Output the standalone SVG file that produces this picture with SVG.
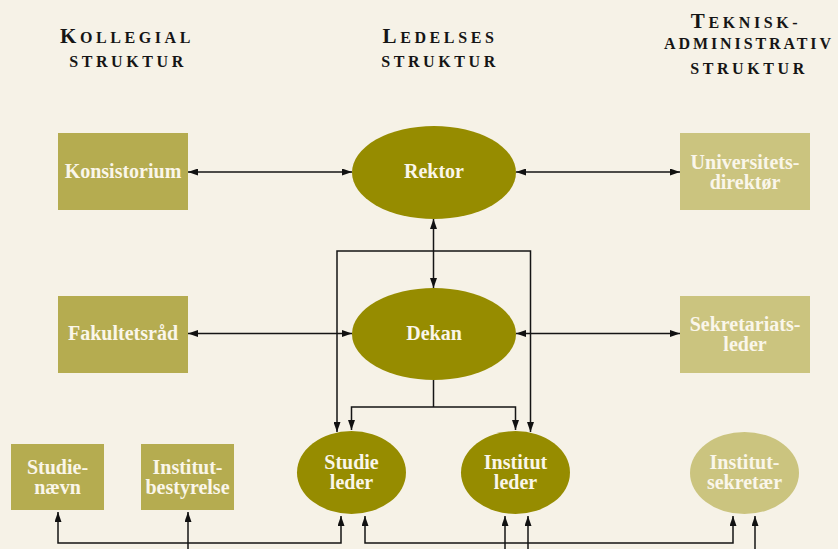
<svg xmlns="http://www.w3.org/2000/svg" width="838" height="549" viewBox="0 0 838 549">
<defs>
<marker id="ah" viewBox="0 0 10 7" refX="10" refY="3.5" markerWidth="10" markerHeight="7" markerUnits="userSpaceOnUse" orient="auto-start-reverse">
<path d="M0,0 L10,3.5 L0,7 z" fill="#111"/>
</marker>
<style>
.bg{fill:#f6f2e7}
.kol{fill:#b5ac50}
.led{fill:#968c00}
.tek{fill:#cbc47f}
.lbl{font-family:"Liberation Serif","DejaVu Serif",serif;font-weight:bold;font-size:20px;fill:#faf6ea;text-anchor:middle}
.hdr{font-family:"Liberation Serif","DejaVu Serif",serif;font-weight:bold;font-size:16px;fill:#151515;text-anchor:middle;letter-spacing:3.6px}
.big{font-size:21px}
.c{fill:none;stroke:#151515;stroke-width:1.5}
.ba{marker-start:url(#ah);marker-end:url(#ah)}
.ea{marker-end:url(#ah)}
</style>
</defs>
<rect class="bg" x="0" y="0" width="838" height="549"/>

<g id="headers">
<text class="hdr" x="127" y="42.5"><tspan class="big">K</tspan>OLLEGIAL</text>
<text class="hdr" x="128" y="66.5">STRUKTUR</text>
<text class="hdr" x="440" y="42.5"><tspan class="big">L</tspan>EDELSES</text>
<text class="hdr" x="440" y="66.5">STRUKTUR</text>
<text class="hdr" x="746" y="27.5"><tspan class="big">T</tspan>EKNISK-</text>
<text class="hdr" x="749" y="49" style="letter-spacing:2.9px">ADMINISTRATIV</text>
<text class="hdr" x="749" y="74">STRUKTUR</text>
</g>

<g id="connectors">
<line class="c ba" x1="188" y1="172" x2="352" y2="172"/>
<line class="c ba" x1="516" y1="172" x2="680" y2="172"/>
<line class="c ba" x1="188" y1="333.5" x2="352" y2="333.5"/>
<line class="c ba" x1="516" y1="333.5" x2="680" y2="333.5"/>
<line class="c ba" x1="433.5" y1="219" x2="433.5" y2="288"/>
<path class="c ba" d="M337,432 V251 H530.5 V432"/>
<line class="c" x1="433.5" y1="380" x2="433.5" y2="407"/>
<path class="c ba" d="M351.5,430 V407 H515.5 V430"/>
<path class="c ba" d="M58,512 V543 H341 V516"/>
<path class="c ba" d="M365,516 V543 H733 V516"/>
<line class="c ea" x1="188" y1="552" x2="188" y2="512"/>
<line class="c ea" x1="505" y1="552" x2="505" y2="516"/>
<line class="c ea" x1="528" y1="552" x2="528" y2="516"/>
<line class="c ea" x1="755" y1="552" x2="755" y2="516"/>
</g>

<g id="konsistorium">
<rect class="kol" x="58" y="133" width="130" height="77"/>
<text class="lbl" x="123" y="177.5">Konsistorium</text>
</g>
<g id="rektor">
<ellipse class="led" cx="434" cy="172.5" rx="82" ry="46.5"/>
<text class="lbl" x="434" y="178">Rektor</text>
</g>
<g id="universitetsdirektoer">
<rect class="tek" x="680" y="133" width="130" height="77"/>
<text class="lbl" x="745" y="168.5">Universitets-</text>
<text class="lbl" x="745" y="188.5">direktør</text>
</g>
<g id="fakultetsraad">
<rect class="kol" x="58" y="296" width="130" height="77"/>
<text class="lbl" x="123" y="339.5">Fakultetsråd</text>
</g>
<g id="dekan">
<ellipse class="led" cx="434" cy="334" rx="82" ry="46"/>
<text class="lbl" x="434" y="339.5">Dekan</text>
</g>
<g id="sekretariatsleder">
<rect class="tek" x="680" y="296" width="130" height="77"/>
<text class="lbl" x="745" y="331">Sekretariats-</text>
<text class="lbl" x="745" y="351">leder</text>
</g>
<g id="studienaevn">
<rect class="kol" x="11" y="444" width="93" height="66"/>
<text class="lbl" x="57.5" y="474">Studie-</text>
<text class="lbl" x="57.5" y="494">nævn</text>
</g>
<g id="institutbestyrelse">
<rect class="kol" x="141" y="444" width="93" height="66"/>
<text class="lbl" x="187.5" y="474">Institut-</text>
<text class="lbl" x="187.5" y="494">bestyrelse</text>
</g>
<g id="studieleder">
<ellipse class="led" cx="351.5" cy="472.5" rx="54.5" ry="41.5"/>
<text class="lbl" x="351.5" y="469">Studie</text>
<text class="lbl" x="351.5" y="489">leder</text>
</g>
<g id="institutleder">
<ellipse class="led" cx="515.5" cy="472.5" rx="54.5" ry="41.5"/>
<text class="lbl" x="515.5" y="469">Institut</text>
<text class="lbl" x="515.5" y="489">leder</text>
</g>
<g id="institutsekretaer">
<ellipse class="tek" cx="744.5" cy="473" rx="54.5" ry="41"/>
<text class="lbl" x="744.5" y="469">Institut-</text>
<text class="lbl" x="744.5" y="489">sekretær</text>
</g>
</svg>
